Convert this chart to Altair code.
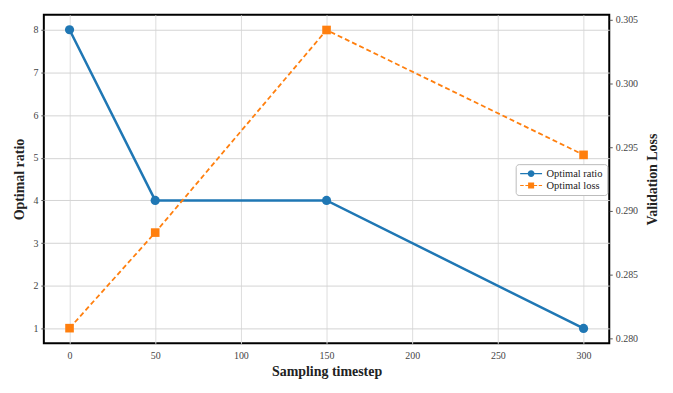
import altair as alt
import pandas as pd

timesteps = [0, 50, 150, 300]
ratio = [8, 4, 4, 1]
loss = [0.2808, 0.2883, 0.3042, 0.2944]
series_names = ["Optimal ratio", "Optimal loss"]
colors = ["#1f77b4", "#ff7f0e"]

df = pd.DataFrame(
    [{"t": t, "series": series_names[0], "v": v} for t, v in zip(timesteps, ratio)]
    + [{"t": t, "series": series_names[1], "v": v} for t, v in zip(timesteps, loss)]
)

FONT = "Liberation Serif"

# legend glyphs: line with marker (circle) and dashed line with square marker
circ = "M0.62,0A0.62,0.62,0,1,1,-0.62,0A0.62,0.62,0,1,1,0.62,0Z"
line_solid = "M-2,-0.13H-0.6V0.13H-2Z M0.6,-0.13H2V0.13H0.6Z"
sq = "M-0.55,-0.55H0.55V0.55H-0.55Z"
line_dash = ("M-2,-0.1H-1.35V0.1H-2Z M-1.05,-0.1H-0.55V0.1H-1.05Z "
             "M0.55,-0.1H1.1V0.1H0.55Z M1.4,-0.1H2V0.1H1.4Z")
legend_paths = [line_solid + " " + circ, line_dash + " " + sq]

color_scale = alt.Scale(domain=series_names, range=colors)
legend_def = alt.Legend(
    title=None, orient="none", legendX=474, legendY=150,
    labelFont=FONT, labelFontSize=10.5, labelColor="#222",
    fillColor="white", strokeColor="#bbb", padding=4, cornerRadius=3,
    symbolSize=121, rowPadding=1, symbolOffset=6, labelOffset=10,
    symbolStrokeWidth=0,
)
color_enc = alt.Color("series:N", scale=color_scale, legend=legend_def)

x = alt.X(
    "t:Q",
    scale=alt.Scale(domain=[-15, 315], nice=False, zero=False),
    axis=alt.Axis(
        title="Sampling timestep", values=[0, 50, 100, 150, 200, 250, 300],
        titleFont=FONT, titleFontSize=14, titleFontWeight="bold", titleColor="#222",
        labelFont=FONT, labelFontSize=10, labelColor="#444",
        gridColor="#dddddd", domain=False, ticks=False,
        labelPadding=7, titlePadding=4,
    ),
)

base = alt.Chart(df)

left_y = alt.Y(
    "v:Q",
    scale=alt.Scale(domain=[0.65, 8.35], nice=False, zero=False),
    axis=alt.Axis(
        title="Optimal ratio", values=[1, 2, 3, 4, 5, 6, 7, 8],
        titleFont=FONT, titleFontSize=14, titleFontWeight="bold", titleColor="#222",
        labelFont=FONT, labelFontSize=10, labelColor="#444",
        gridColor="#d4d4d4", domain=False, tickColor="#555", tickSize=3,
        labelPadding=3, titlePadding=6,
    ),
)
right_y = alt.Y(
    "v:Q",
    scale=alt.Scale(domain=[0.27961, 0.30539], nice=False, zero=False),
    axis=alt.Axis(
        title="Validation Loss", orient="right", titleAngle=270, titleBaseline="top",
        values=[0.280, 0.285, 0.290, 0.295, 0.300, 0.305], format=".3f",
        titleFont=FONT, titleFontSize=14, titleFontWeight="bold", titleColor="#222",
        labelFont=FONT, labelFontSize=10, labelColor="#444",
        gridColor="#efefef", domain=False, tickColor="#555", tickSize=3,
        labelPadding=3, titlePadding=8,
    ),
)

left_line = base.transform_filter(alt.datum.series == series_names[0]).mark_line(strokeWidth=2.5).encode(
    x=x, y=left_y, color=color_enc
)
left_pts = base.transform_filter(alt.datum.series == series_names[0]).mark_point(
    filled=True, size=85, opacity=1, shape="circle"
).encode(x=x, y=left_y, color=color_enc)

legend_layer = base.transform_filter(alt.datum.t < -1000).mark_point(filled=True, opacity=1).encode(
    x=x, y=left_y,
    color=color_enc,
    shape=alt.Shape("series:N", scale=alt.Scale(domain=series_names, range=legend_paths), legend=legend_def),
)

right_line = base.transform_filter(alt.datum.series == series_names[1]).mark_line(
    strokeWidth=1.8, strokeDash=[5, 3]
).encode(x=x, y=right_y, color=color_enc)
right_pts = base.transform_filter(alt.datum.series == series_names[1]).mark_point(
    filled=True, size=75, opacity=1, shape="square"
).encode(x=x, y=right_y, color=color_enc)

left = alt.layer(left_line, left_pts, legend_layer)
right = alt.layer(right_line, right_pts)

chart = alt.layer(left, right).resolve_scale(y="independent").properties(
    width=568, height=330, background="white"
).configure_view(stroke="black", strokeWidth=2)

chart.save("out.html", embed_options={"renderer": "svg", "actions": False})
